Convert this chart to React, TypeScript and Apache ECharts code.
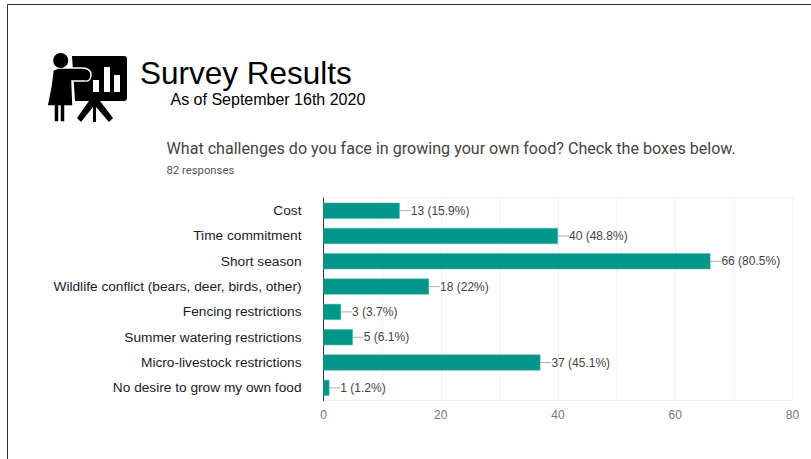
import React, { useEffect, useRef } from "react";
import * as echarts from "echarts";

const categories = ["Cost", "Time commitment", "Short season", "Wildlife conflict (bears, deer, birds, other)", "Fencing restrictions", "Summer watering restrictions", "Micro-livestock restrictions", "No desire to grow my own food"];
const values = [13, 40, 66, 18, 3, 5, 37, 1];
const percents = ["15.9%", "48.8%", "80.5%", "22%", "3.7%", "6.1%", "45.1%", "1.2%"];
const xTicks = [0, 20, 40, 60, 80];

const boardPath =
  "M72 56 H124 Q127 56 127 59 V98 Q127 101 124 101 H100 L113 118 L109 122 L96 107 V122 H93 V107 L81 122 L77 118 L89 101 H75 Z " +
  "M93 80 V92 H99 V80 Z M104 67 V92 H110 V67 Z M114 75 V92 H120 V75 Z";
const personPath =
  "M53 70 L58 68 H82 Q91 68 91 75 Q91 82 84 81 H72 L73 106 H65 V122 H60 V106 H59 V122 H54 V106 H47 L51 86 Z";

export default function App() {
  const ref = useRef<HTMLDivElement>(null);
  useEffect(() => {
    echarts.graphic.registerShape("boardIcon", echarts.graphic.extendPath(boardPath, {}));
    echarts.graphic.registerShape("personIcon", echarts.graphic.extendPath(personPath, {}));
    const chart = echarts.init(ref.current!, undefined, { renderer: "svg" });
    const titleFont = "'Liberation Sans', Arial, sans-serif";
    const roboto = "Roboto, sans-serif";
    chart.setOption({
      animation: false,
      backgroundColor: "#fff",
      grid: { left: 323.5, right: 18.5, top: 198, bottom: 58.5, containLabel: false },
      xAxis: {
        type: "value", min: 0, max: 80, interval: 20,
        minorTick: { show: false, splitNumber: 2 },
        minorSplitLine: { show: true, lineStyle: { color: "#f3f3f3" } },
        axisLine: { show: false }, axisTick: { show: false },
        splitLine: { lineStyle: { color: "#efefef" } },
        axisLabel: { color: "#777", fontFamily: titleFont, fontSize: 12, margin: 8, formatter: (v: number) => (xTicks.includes(v) ? String(v) : "") },
      },
      yAxis: {
        type: "category", inverse: true, data: categories,
        axisLine: { show: true, lineStyle: { color: "#333", width: 1 } },
        axisTick: { show: false },
        axisLabel: { color: "#1a1a2a", fontFamily: titleFont, fontSize: 13.7, margin: 22, padding: [0, 0, 4, 0] },
      },
      series: [{
        type: "bar", data: values, barWidth: 16,
        itemStyle: { color: "#009688", borderColor: "#4db6ac", borderWidth: 0.5 },
        label: {
          show: true, position: "right", distance: 0, color: "#444", fontFamily: titleFont, fontSize: 12,
          formatter: (p: any) => `${values[p.dataIndex]} (${percents[p.dataIndex]})`,
        },
        labelLayout: { dx: 11 },
        labelLine: { show: true, lineStyle: { color: "#b0b0b0", width: 1 } },
      }],
      graphic: [
        { type: "rect", silent: true, shape: { x: 323.5, y: 198, width: 469, height: 202.5 }, style: { fill: "none", stroke: "#f0f0f0" } },
        { type: "line", silent: true, shape: { x1: 7.5, y1: 4.5, x2: 811, y2: 4.5 }, style: { stroke: "#333", lineWidth: 1 } },
        { type: "line", silent: true, shape: { x1: 7.5, y1: 4.5, x2: 7.5, y2: 459 }, style: { stroke: "#333", lineWidth: 1 } },
        { type: "boardIcon", silent: true, style: { fill: "#000" } },
        { type: "personIcon", silent: true, style: { fill: "#000", stroke: "#fff", lineWidth: 1.5 } },
        { type: "circle", silent: true, shape: { cx: 60.7, cy: 60.5, r: 7.5 }, style: { fill: "#000" } },
        { type: "text", x: 140, y: 57, style: { text: "Survey Results", fill: "#000", font: `31.5px ${titleFont}` } },
        { type: "text", x: 170.5, y: 91, style: { text: "As of September 16th 2020", fill: "#000", font: `16px ${titleFont}` } },
        { type: "text", x: 166.5, y: 140, style: { text: "What challenges do you face in growing your own food? Check the boxes below.", fill: "#444", font: `16.1px ${roboto}` } },
        { type: "text", x: 166.5, y: 165, style: { text: "82 responses", fill: "#555", font: `11.3px ${roboto}` } },
      ],
    });
    return () => chart.dispose();
  }, []);
  return <div ref={ref} style={{ position: "fixed", left: 0, top: 0, width: 811, height: 459 }} />;
}
